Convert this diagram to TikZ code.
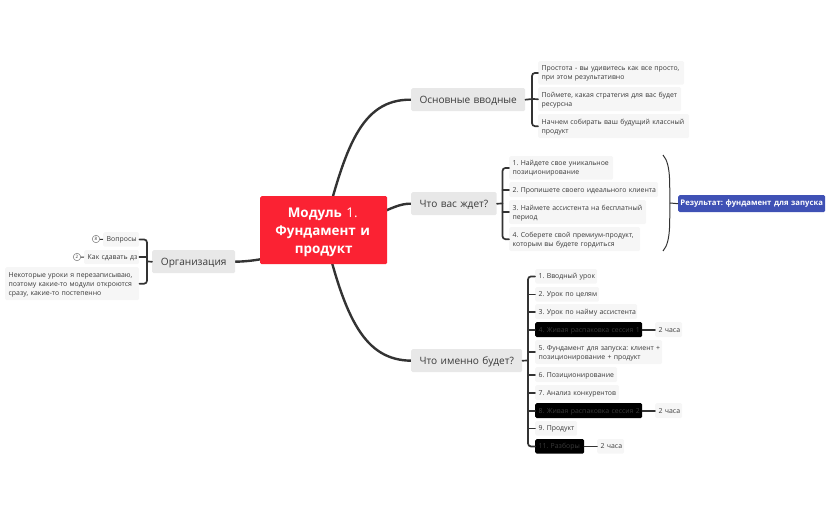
\documentclass[tikz,border=0pt]{standalone}
\usepackage{fontspec}
\setmainfont{Open Sans}
\usetikzlibrary{backgrounds}
\AtBeginDocument{\frenchspacing}
\definecolor{ink}{HTML}{3A3A3A}
\definecolor{lineink}{HTML}{333333}
\definecolor{leaffill}{HTML}{F6F6F6}
\definecolor{topicfill}{HTML}{E8E8E8}
\definecolor{rootred}{HTML}{FB2233}
\definecolor{resblue}{HTML}{3F51B5}
\tikzset{
  x=1pt,y=-1pt,
  boxbase/.style={anchor=north west,inner sep=0pt,rounded corners=1.5pt,align=left},
  leaf/.style={boxbase,fill=leaffill,text=ink,font=\fontsize{6.9}{9}\selectfont},
  blackleaf/.style={boxbase,fill=black,text=ink,font=\fontsize{6.9}{9}\selectfont},
  topic/.style={boxbase,fill=topicfill,text=ink,font=\fontsize{10.1}{12}\selectfont,align=center},
  rootbox/.style={boxbase,fill=rootred,text=white,font=\fontsize{13.4}{18}\selectfont\bfseries,align=center},
  resultbox/.style={boxbase,fill=resblue,text=white,font=\fontsize{7.7}{9}\selectfont\bfseries,align=center},
  badge/.style={circle,draw=ink!70,line width=.5pt,fill=white,inner sep=0pt,minimum size=7.5pt,text=ink,font=\fontsize{4.5}{5}\selectfont},
  maincurve/.style={draw=lineink,line width=2.4pt,line cap=round},
  branch/.style={draw=lineink,line width=1.7pt,line cap=round},
  thinline/.style={draw=lineink,line width=1pt},
}
\newcommand{\boxat}[8]{% style name x y w h pad text
  \node[#1,minimum width=#5,minimum height=#6,text width=#5pt-2*#7pt,inner xsep=#7pt] (#2) at (#3,#4) {#8};}
\newcommand{\ltxt}[1]{\rlap{\raisebox{-.7pt}[\height][\depth]{\begin{tabular}{@{}l@{}}#1\end{tabular}}}}
\newcommand{\ctxt}[1]{\raisebox{-1pt}[\height][\depth]{#1}}
\newcommand{\rtxt}[1]{\hspace*{-2pt}\raisebox{-2pt}[\height][\depth]{#1}}
\begin{document}
\begin{tikzpicture}
\useasboundingbox (0,0) rectangle (830,514);
% root and topics
\boxat{rootbox}{root}{260}{196}{127}{68}{4}{\rtxt{Модуль {\mdseries 1.}}\\\rtxt{Фундамент и}\\\raisebox{-2pt}[\height][\depth]{продукт}}
\boxat{topic}{top1}{411}{88}{114}{23}{2}{\ctxt{Основные вводные}}
\boxat{topic}{top2}{411}{192}{85.5}{23}{2}{\ctxt{Что вас ждет?}}
\boxat{topic}{top3}{411}{349}{111}{23}{2}{\ctxt{Что именно будет?}}
\boxat{topic}{top4}{152}{250}{83}{23}{2}{\ctxt{Организация}}
% leaves 1
\boxat{leaf}{a1}{538}{61}{146}{23.5}{3.5}{\ltxt{Простота - вы удивитесь как все просто,\\при этом результативно}}
\boxat{leaf}{a2}{538}{87}{143}{24}{3.5}{\ltxt{Поймете, какая стратегия для вас будет\\ресурсна}}
\boxat{leaf}{a3}{538}{114}{151}{24}{3.5}{\ltxt{Начнем собирать ваш будущий классный\\продукт}}
% leaves 2
\boxat{leaf}{b1}{509}{156}{104}{23.5}{3.5}{\ltxt{1. Найдете свое уникальное\\позиционирование}}
\boxat{leaf}{b2}{509}{182}{149}{15}{3.5}{\ltxt{2. Пропишете своего идеального клиента}}
\boxat{leaf}{b3}{509}{200}{137}{24}{3.5}{\ltxt{3. Наймете ассистента на бесплатный\\период}}
\boxat{leaf}{b4}{509}{227}{131}{24}{3.5}{\ltxt{4. Соберете свой премиум-продукт,\\которым вы будете гордиться}}
% leaves 3
\boxat{leaf}{c1}{535}{269}{62}{14.5}{3.5}{\ltxt{1. Вводный урок}}
\boxat{leaf}{c2}{535}{287}{64}{14.5}{3.5}{\ltxt{2. Урок по целям}}
\boxat{leaf}{c3}{535}{304}{102}{15}{3.5}{\ltxt{3. Урок по найму ассистента}}
\boxat{blackleaf}{c4}{535}{322}{107}{15}{3.5}{\ltxt{4. Живая распаковка сессия 1}}
\boxat{leaf}{c5}{535}{340}{127}{24}{3.5}{\ltxt{5. Фундамент для запуска: клиент +\\позиционирование + продукт}}
\boxat{leaf}{c6}{535}{367}{82}{15}{3.5}{\ltxt{6. Позиционирование}}
\boxat{leaf}{c7}{535}{385}{84}{15}{3.5}{\ltxt{7. Анализ конкурентов}}
\boxat{blackleaf}{c8}{535}{403}{107}{15}{3.5}{\ltxt{8. Живая распаковка сессия 2}}
\boxat{leaf}{c9}{535}{421}{42}{14.5}{3.5}{\ltxt{9. Продукт}}
\boxat{blackleaf}{c11}{535}{439}{49}{14.5}{3.5}{\ltxt{11. Разборы}}
\boxat{leaf}{d4}{655}{322}{27}{15}{3.5}{\ltxt{2 часа}}
\boxat{leaf}{d8}{655}{403}{27}{15}{3.5}{\ltxt{2 часа}}
\boxat{leaf}{d11}{597}{439}{27}{14.5}{3.5}{\ltxt{2 часа}}
% organisation leaves
\boxat{leaf}{e1}{103}{232}{36}{14.5}{3.5}{\ltxt{Вопросы}}
\boxat{leaf}{e2}{84}{250}{55}{14}{3.5}{\ltxt{Как сдавать дз}}
\boxat{leaf}{e3}{5}{267}{134}{33}{3.5}{\ltxt{Некоторые уроки я перезаписываю,\\поэтому какие-то модули откроются\\сразу, какие-то постепенно}}
\node[badge] (n8) at (96,239) {8};
\node[badge] (n2) at (77,257) {2};
% result
\boxat{resultbox}{res}{678}{195}{147}{17}{2}{Результат: фундамент для запуска}
% junctions
\coordinate (ja) at (532,99);
\coordinate (jb) at (502.5,203.5);
\coordinate (jc) at (528,360.5);
\coordinate (je) at (147,261.5);
\coordinate (btop) at (663,155);
\coordinate (bbot) at (663,251);
\coordinate (bmid) at (670,203);
\begin{scope}[on background layer]
  \draw[maincurve] (root.center) .. controls (345,150) and (360,99) .. (top1.west);
  \draw[maincurve] (root.center) .. controls (370,225) and (390,203) .. (top2.west);
  \draw[maincurve] (root.center) .. controls (345,320) and (365,360) .. (top3.west);
  \draw[maincurve] (root.center) .. controls (300,250) and (270,261) .. (top4.east);
\end{scope}
% brackets
\draw[branch] (top1.east) -- (ja);
\draw[branch,rounded corners=3pt] (a1.west) -| (ja) |- (a3.west);
\draw[branch] (ja) -- (a2.west);
\draw[branch] (top2.east) -- (jb);
\draw[branch,rounded corners=3pt] (b1.west) -| (jb) |- (b4.west);
\draw[branch] (jb |- b2.west) -- (b2.west);
\draw[branch] (jb |- b3.west) -- (b3.west);
\draw[branch] (top3.east) -- (jc);
\draw[branch,rounded corners=3pt] (c1.west) -| (jc) |- (c11.west);
\foreach \n in {c2,c3,c4,c5,c6,c7,c8,c9}{\draw[branch] (jc |- \n.west) -- (\n.west);}
\draw[branch] (c4.east) -- (d4.west);
\draw[branch] (c8.east) -- (d8.west);
\draw[branch] (c11.east) -- (d11.west);
\draw[branch] (top4.west) -- (je);
\draw[branch,rounded corners=3pt] (e1.east) -| (je) |- (e3.east);
\draw[branch] (je |- e2.east) -- (e2.east);
\draw[thinline] (n8) -- (e1.west);
\draw[thinline] (n2) -- (e2.west);
% summary bracket
\draw[draw=lineink,line width=1pt] (btop) .. controls (672,165) and (669,190) .. (bmid) .. controls (669,216) and (672,241) .. (bbot);
\draw[thinline] (bmid) -- (res.west);
\end{tikzpicture}
\end{document}
